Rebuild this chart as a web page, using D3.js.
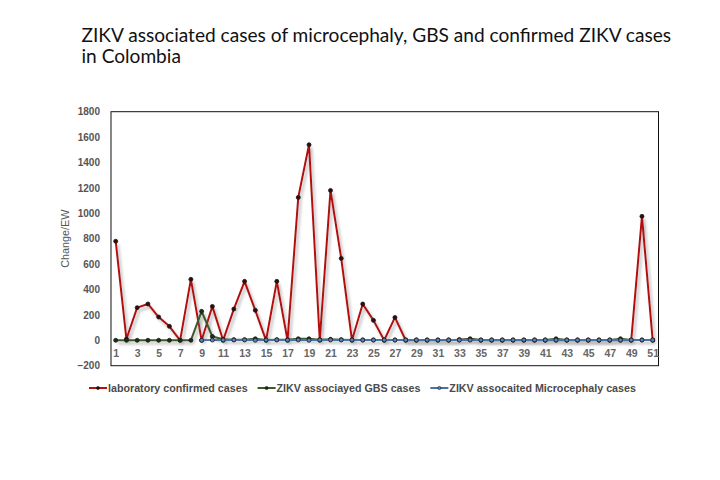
<!DOCTYPE html>
<html>
<head>
<meta charset="utf-8">
<script src="https://cdn.jsdelivr.net/npm/d3@7"></script>
<style>
  body { margin: 0; background: #fff; }
  svg { display: block; }
</style>
</head>
<body>
<div id="chart"></div>
<script>
// epidemiological weeks 1..51
const weeks = d3.range(1, 52);

// laboratory confirmed cases per week
const confirmedCases = [780, 10, 257, 286, 183, 110, 0, 480, 0, 267,
  0, 246, 464, 236, 0, 464, 0, 1125, 1540, 0,
  1180, 645, 0, 286, 157, 0, 180, 0, 0, 0,
  0, 0, 5, 8, 0, 0, 0, 0, 0, 0,
  0, 0, 0, 0, 0, 0, 0, 0, 0, 976,
  0];

// ZIKV associated GBS cases
const gbsCases = [0, 0, 0, 0, 0, 0, 0, 0, 228, 30,
  8, 5, 5, 12, 3, 5, 5, 12, 12, 5,
  8, 5, 3, 3, 3, 3, 3, 3, 3, 3,
  3, 3, 3, 12, 3, 3, 3, 3, 3, 3,
  3, 12, 3, 3, 3, 3, 3, 12, 3, 3,
  3];

// ZIKV associated microcephaly cases (reported from week 9)
const microcephalyCases = [null, null, null, null, null, null, null, null, 0, 2,
  2, 3, 3, 0, 2, 3, 2, 3, 0, 3,
  3, 3, 2, 2, 2, 2, 2, 2, 2, 2,
  2, 2, 2, 2, 2, 2, 2, 2, 2, 2,
  2, 2, 2, 2, 2, 2, 2, 2, 2, 2,
  2];

const seriesNames = ["laboratory confirmed cases", "ZIKV associayed GBS cases", "ZIKV assocaited Microcephaly cases"];
const seriesColors = ["#b3100f", "#3b5a2c", "#4b72a6"];
const markerFills = ["#3a0808", "#1f2d18", "#5b83b8"];

const yTicks = [-200, 0, 200, 400, 600, 800, 1000, 1200, 1400, 1600, 1800];
const xTickLabels = weeks.filter(w => w % 2 === 1);

const titleLines = ["ZIKV associated cases of microcephaly, GBS and confirmed ZIKV cases", "in Colombia"];
const yAxisTitle = "Change/EW";

const W = 720, H = 480;
const frame = {left: 111, right: 658.5, top: 111.7, bottom: 365.7};
const axisFont = "'Liberation Sans', Arial, Helvetica, sans-serif";

const svg = d3.select("#chart").append("svg")
    .attr("width", W)
    .attr("height", H);

// soft shadow under the lines
const filter = svg.append("defs").append("filter")
    .attr("id", "shadow")
    .attr("x", "-20%").attr("y", "-20%")
    .attr("width", "140%").attr("height", "140%");
filter.append("feDropShadow")
    .attr("dx", 2).attr("dy", 3)
    .attr("stdDeviation", 1.8)
    .attr("flood-color", "#777")
    .attr("flood-opacity", 0.55);

// title, fitted to the width of the original
const title = svg.append("g");
titleLines.forEach(function(line, i) {
  title.append("text")
      .attr("x", 81.5)
      .attr("y", 42 + i * 21)
      .attr("font-family", "Lato, 'Open Sans', sans-serif")
      .attr("font-size", 20)
      .attr("fill", "#111")
      .text(line);
});
const t0 = title.select("text").node();
const fitSize = 20 * 590 / t0.getComputedTextLength();
title.selectAll("text").attr("font-size", fitSize);

// scales
const x = d3.scaleLinear().domain([1, 51]).range([115.7, 652.7]);
const y = d3.scaleLinear().domain([-200, 1800]).range([frame.bottom, frame.top]);

// plot frame
svg.append("rect")
    .attr("x", frame.left)
    .attr("y", frame.top)
    .attr("width", frame.right - frame.left)
    .attr("height", frame.bottom - frame.top)
    .attr("fill", "none")
    .attr("stroke", "#111")
    .attr("stroke-width", 1);

// y axis
const yAxis = svg.append("g")
    .attr("transform", "translate(" + frame.left + ",0)")
    .call(d3.axisLeft(y).tickValues(yTicks).tickFormat(d3.format("d")).tickSize(0).tickPadding(11));
yAxis.select(".domain").remove();
yAxis.attr("font-family", axisFont);
yAxis.selectAll("text")
    .attr("font-size", 10)
    .attr("font-weight", "bold")
    .attr("fill", "#555");

// x axis labels sit just under the zero line
const xAxis = svg.append("g")
    .attr("transform", "translate(0," + y(0) + ")")
    .call(d3.axisBottom(x).tickValues(xTickLabels).tickFormat(d3.format("d")).tickSize(0).tickPadding(9));
xAxis.select(".domain").remove();
xAxis.attr("font-family", axisFont);
xAxis.selectAll("text")
    .attr("font-size", 10.5)
    .attr("font-weight", "bold")
    .attr("fill", "#666");

// y axis title
svg.append("text")
    .attr("transform", "translate(69," + y(800) + ") rotate(-90)")
    .attr("text-anchor", "middle")
    .attr("font-family", axisFont)
    .attr("font-size", 10.8)
    .attr("fill", "#555")
    .text(yAxisTitle);

// series
const allSeries = [confirmedCases, gbsCases, microcephalyCases];
const line = d3.line()
    .defined(d => d.v !== null)
    .x(d => x(d.w))
    .y(d => y(d.v));

allSeries.forEach(function(values, i) {
  const data = weeks.map((w, k) => ({w: w, v: values[k]}));
  const g = svg.append("g");
  g.append("path")
      .datum(data)
      .attr("d", line)
      .attr("fill", "none")
      .attr("stroke", seriesColors[i])
      .attr("stroke-width", 2)
      .attr("stroke-linejoin", "round")
      .attr("filter", "url(#shadow)");
  g.selectAll("circle")
      .data(data.filter(d => d.v !== null))
      .join("circle")
      .attr("cx", d => x(d.w))
      .attr("cy", d => y(d.v))
      .attr("r", 2)
      .attr("fill", markerFills[i])
      .attr("stroke", "#1a1a1a")
      .attr("stroke-width", 0.8);
});

// legend
const legend = svg.append("g").attr("transform", "translate(89,388)");
let lx = 0;
seriesNames.forEach(function(name, i) {
  const item = legend.append("g").attr("transform", "translate(" + lx + ",0)");
  item.append("line")
      .attr("x1", 0).attr("x2", 18)
      .attr("stroke", seriesColors[i])
      .attr("stroke-width", 2);
  item.append("circle")
      .attr("cx", 9).attr("r", 1.6)
      .attr("fill", markerFills[i])
      .attr("stroke", "#1a1a1a")
      .attr("stroke-width", 0.6);
  const txt = item.append("text")
      .attr("x", 19)
      .attr("dy", "0.35em")
      .attr("font-family", axisFont)
      .attr("font-size", 10.7)
      .attr("font-weight", "bold")
      .attr("fill", "#4a4a4a")
      .text(name);
  lx += 19 + txt.node().getComputedTextLength() + 10;
});
</script>
</body>
</html>
